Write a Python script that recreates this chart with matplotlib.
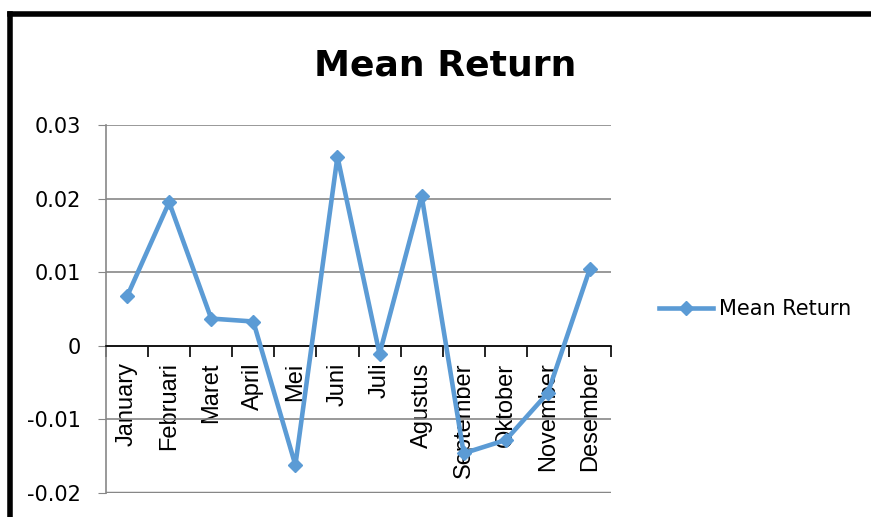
import matplotlib
matplotlib.use('Agg')
from matplotlib import pyplot as plt
from matplotlib.lines import Line2D

months = ['January', 'Februari', 'Maret', 'April', 'Mei', 'Juni', 'Juli',
          'Agustus', 'September', 'Oktober', 'November', 'Desember']
mean_return = [0.0067, 0.0195, 0.0037, 0.0033, -0.0162, 0.0257, -0.0011,
               0.0204, -0.0146, -0.0128, -0.0064, 0.0105]
y_ticks = [-0.02, -0.01, 0, 0.01, 0.02, 0.03]
y_labels = ['-0.02', '-0.01', '0', '0.01', '0.02', '0.03']

blue = '#5B9BD5'
grid_grey = '#878787'

fig = plt.figure(figsize=(8.71, 5.17), dpi=100)
ax = fig.add_axes([106 / 871, 1 - 493 / 517, 505 / 871, 368 / 517])

x = list(range(len(months)))
ax.plot(x, mean_return, color=blue, lw=3.3, marker='D', ms=7,
        label='Mean Return', zorder=3)

ax.set_xlim(-0.5, len(months) - 0.5)
ax.set_ylim(-0.02, 0.03)

#y axis: grey gridlines, small ticks on the left
ax.set_yticks(y_ticks)
ax.set_yticklabels(y_labels, fontsize=15, family='DejaVu Sans')
ax.tick_params(axis='y', direction='out', length=6, color=grid_grey, pad=12)
ax.grid(axis='y', color=grid_grey, lw=1.2)
ax.axhline(-0.02, color=grid_grey, lw=2.5, zorder=2)

for s in ['top', 'right']:
    ax.spines[s].set_visible(False)
ax.spines['left'].set_color(grid_grey)
ax.spines['left'].set_linewidth(1.2)

#category axis sits on the zero line
ax.spines['bottom'].set_position(('data', 0))
ax.spines['bottom'].set_color('black')
ax.spines['bottom'].set_linewidth(1.2)
ax.set_xticks([i - 0.5 for i in range(len(months) + 1)])
ax.set_xticklabels([])
ax.tick_params(axis='x', which='major', direction='out', length=8, width=1.2,
               color='black')
ax.set_xticks(x, minor=True)
ax.set_xticklabels(months, minor=True, rotation=90, fontsize=17,
                   family='Liberation Sans', va='top', ha='center')
ax.tick_params(axis='x', which='minor', length=0, pad=12)

fig.text(0.511, 0.873, 'Mean Return', fontsize=26, fontweight='bold',
         family='DejaVu Sans', ha='center', va='center')

handle = Line2D([], [], color=blue, lw=3.3, marker='D', ms=7)
fig.legend([handle], ['Mean Return'], loc='center left',
           bbox_to_anchor=(640 / 871, 1 - 309 / 517), frameon=False,
           handlelength=2.6, handletextpad=0.3,
           prop={'family': 'DejaVu Sans', 'size': 15})

#black frame on top and left edges
fig.add_artist(Line2D([10 / 871, 1], [1 - 14 / 517, 1 - 14 / 517],
                      color='black', lw=4, solid_capstyle='projecting',
                      transform=fig.transFigure))
fig.add_artist(Line2D([10 / 871, 10 / 871], [0, 1 - 14 / 517],
                      color='black', lw=4, solid_capstyle='projecting',
                      transform=fig.transFigure))

fig.savefig('out.png', dpi=100)
